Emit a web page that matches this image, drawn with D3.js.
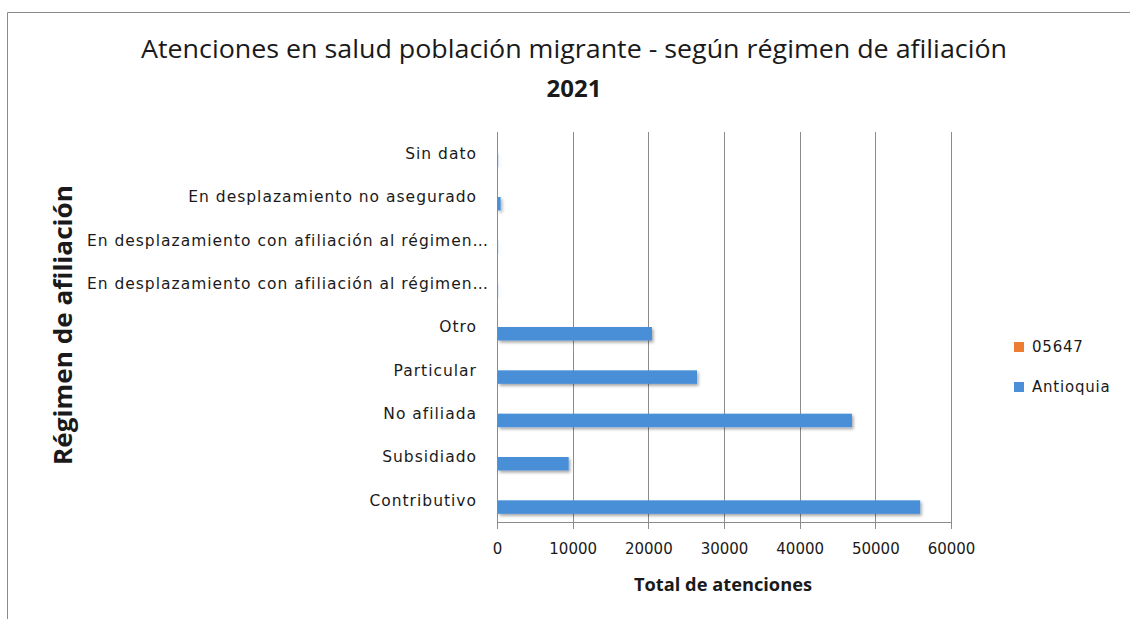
<!DOCTYPE html>
<html lang="es">
<head>
<meta charset="UTF-8">
<title>Atenciones en salud población migrante</title>
<script src="https://d3js.org/d3.v7.min.js"></script>
<style>
    body, html {
        margin: 0;
        background: #fff;
    }
    svg text {
        fill: #1a1a1a;
    }
    .grid line {
        stroke: #8c8c8c;
        stroke-width: 1px;
    }
    .cat text {
        font-family: 'DejaVu Sans', sans-serif;
        font-size: 15.5px;
        letter-spacing: 1px;
    }
    .xaxis text {
        font-family: 'DejaVu Sans', sans-serif;
        font-size: 15px;
        fill: #1a1a1a;
    }
    .legend text {
        font-family: 'DejaVu Sans', sans-serif;
        font-size: 15px;
        letter-spacing: 0.8px;
    }
</style>
</head>
<body>
<script>
    // categorias de abajo hacia arriba, como en la grafica
    const categories = [
        "Contributivo",
        "Subsidiado",
        "No afiliada",
        "Particular",
        "Otro",
        "En desplazamiento con afiliación al régimen…",
        "En desplazamiento con afiliación al régimen…",
        "En desplazamiento no asegurado",
        "Sin dato"
    ];
    const series = ["05647", "Antioquia"];
    const values05647 = [0, 0, 0, 0, 0, 0, 0, 0, 0];
    const valuesAntioquia = [55800, 9340, 46780, 26300, 20350, 20, 20, 350, 30];
    const xTicks = [0, 10000, 20000, 30000, 40000, 50000, 60000];
    const colors = ["#ed7d31", "#4a8fd8"];

    const W = 1130, H = 619;
    const plot = {left: 497, right: 951, top: 132, bottom: 522};

    const svg = d3.select("body").append("svg")
        .attr("width", W)
        .attr("height", H);

    const defs = svg.append("defs");
    const f = defs.append("filter").attr("id", "shadow")
        .attr("x", "-5%").attr("y", "-50%").attr("width", "110%").attr("height", "220%");
    f.append("feDropShadow")
        .attr("dx", 1.5).attr("dy", 2).attr("stdDeviation", 1.5)
        .attr("flood-color", "#000").attr("flood-opacity", 0.35);

    // marco del area del grafico
    svg.append("path")
        .attr("d", `M7.5,${H} V12.5 H${W}`)
        .attr("fill", "none")
        .attr("stroke", "#8a8a8a");

    const x = d3.scaleLinear().domain([0, 60000]).range([plot.left, plot.right]);
    const idx = d3.range(categories.length);
    const y = d3.scaleBand().domain(idx).range([plot.bottom, plot.top]);
    const inner = d3.scaleBand().domain(series).range([-13.5, 13.5]);

    // lineas de cuadricula
    svg.append("g").attr("class", "grid")
        .selectAll("line")
        .data(xTicks)
        .join("line")
        .attr("x1", d => Math.round(x(d)) + 0.5)
        .attr("x2", d => Math.round(x(d)) + 0.5)
        .attr("y1", plot.top)
        .attr("y2", plot.bottom + 7);

    svg.append("line")
        .attr("x1", plot.left).attr("x2", plot.right + 1)
        .attr("y1", plot.bottom + 0.5).attr("y2", plot.bottom + 0.5)
        .attr("stroke", "#8c8c8c");

    // eje x
    const xAxis = svg.append("g").attr("class", "xaxis")
        .attr("transform", `translate(0,${plot.bottom})`)
        .call(d3.axisBottom(x).tickValues(xTicks).tickSize(0).tickPadding(21).tickFormat(d3.format("d")));
    xAxis.select(".domain").remove();

    // barras
    const seriesData = [values05647, valuesAntioquia];
    series.forEach((s, si) => {
        svg.append("g")
            .attr("filter", "url(#shadow)")
            .selectAll("rect")
            .data(idx)
            .join("rect")
            .attr("x", x(0) + 1)
            .attr("y", i => y(i) + y.bandwidth() / 2 + inner(s))
            .attr("width", i => Math.max(0, x(seriesData[si][i]) - x(0)))
            .attr("height", inner.bandwidth())
            .attr("fill", colors[si]);
    });

    // etiquetas de categorias (las truncadas llegan mas cerca del eje)
    svg.append("g").attr("class", "cat")
        .selectAll("text")
        .data(idx)
        .join("text")
        .attr("x", i => categories[i].endsWith("…") ? plot.left - 8 : plot.left - 20)
        .attr("y", i => y(i) + y.bandwidth() / 2)
        .attr("dy", "0.35em")
        .attr("text-anchor", "end")
        .text(i => categories[i]);

    // titulo
    svg.append("text")
        .attr("x", 574).attr("y", 58)
        .attr("text-anchor", "middle")
        .style("font-family", "'Open Sans', sans-serif")
        .style("font-size", "25px")
        .attr("textLength", 866)
        .attr("lengthAdjust", "spacingAndGlyphs")
        .text("Atenciones en salud población migrante - según régimen de afiliación");
    svg.append("text")
        .attr("x", 574).attr("y", 97)
        .attr("text-anchor", "middle")
        .style("font-family", "'Open Sans', sans-serif")
        .style("font-size", "24px")
        .style("font-weight", "bold")
        .text("2021");

    // titulos de ejes
    svg.append("text")
        .attr("transform", `translate(72,325) rotate(-90)`)
        .attr("text-anchor", "middle")
        .style("font-family", "'Open Sans', sans-serif")
        .style("font-size", "25px")
        .style("font-weight", "bold")
        .attr("textLength", 280)
        .attr("lengthAdjust", "spacingAndGlyphs")
        .text("Régimen de afiliación");
    svg.append("text")
        .attr("x", 723).attr("y", 591)
        .attr("text-anchor", "middle")
        .style("font-family", "'Open Sans', sans-serif")
        .style("font-size", "17px")
        .style("font-weight", "bold")
        .attr("textLength", 178)
        .attr("lengthAdjust", "spacingAndGlyphs")
        .text("Total de atenciones");

    // leyenda
    const leg = svg.append("g").attr("class", "legend").attr("transform", "translate(1014,347)");
    series.forEach((s, i) => {
        const g = leg.append("g").attr("transform", `translate(0,${i * 40})`);
        g.append("rect").attr("x", 0).attr("y", -5).attr("width", 10).attr("height", 10).attr("fill", colors[i]);
        g.append("text").attr("x", 18).attr("y", 0).attr("dy", "0.35em")
            .text(s);
    });
</script>
</body>
</html>
